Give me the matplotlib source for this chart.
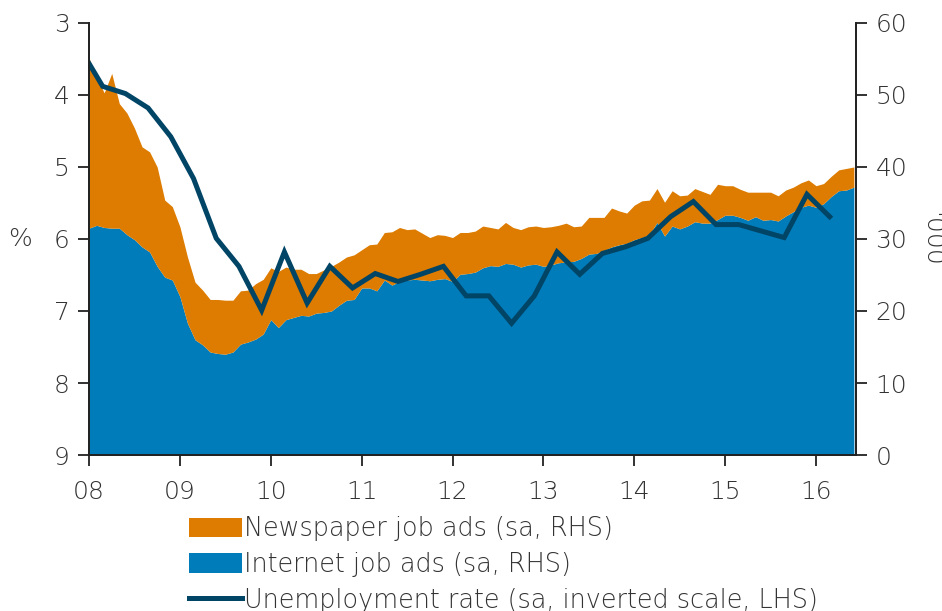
import matplotlib.pyplot as plt
import numpy as np

# monthly job ads, '000 (Jan 2008 - Jun 2016)
internet_ads = [31.5, 31.9, 31.6, 31.5, 31.5, 30.6, 29.9, 28.9, 28.2, 26.2, 24.7, 24.3,
                22.0, 18.3, 16.0, 15.3, 14.3, 14.1, 14.0, 14.3, 15.4, 15.7, 16.1, 16.8,
                18.8, 17.7, 18.8, 19.1, 19.4, 19.3, 19.7, 19.8, 20.0, 20.8, 21.5, 21.6,
                23.2, 23.2, 22.8, 24.3, 23.6, 24.1, 24.3, 24.4, 24.3, 24.2, 24.4, 24.5,
                24.1, 25.1, 25.2, 25.4, 26.0, 26.3, 26.2, 26.6, 26.5, 26.1, 26.4, 26.5,
                26.2, 26.4, 26.7, 26.8, 26.9, 27.3, 27.9, 28.0, 28.4, 28.9, 29.2, 29.4,
                29.9, 30.2, 30.6, 32.3, 30.4, 31.8, 31.4, 31.8, 32.4, 32.2, 32.2, 32.7,
                33.3, 33.3, 33.0, 32.6, 33.1, 32.6, 32.7, 32.5, 33.2, 33.8, 34.4, 34.7,
                34.4, 34.9, 35.9, 36.7, 36.8, 37.2]
newspaper_ads = [23.6, 20.6, 18.7, 21.5, 17.3, 16.9, 15.5, 13.9, 13.9, 13.8, 10.7, 10.2,
                 9.7, 9.2, 8.0, 7.6, 7.3, 7.5, 7.5, 7.2, 7.4, 7.2, 7.7, 7.6,
                 7.2, 7.8, 7.3, 6.7, 6.4, 5.9, 5.5, 5.9, 6.2, 6.0, 6.0, 6.2,
                 5.3, 6.0, 6.5, 6.6, 7.4, 7.5, 7.0, 7.0, 6.5, 6.0, 6.2, 6.0,
                 6.1, 5.8, 5.7, 5.7, 5.8, 5.3, 5.2, 5.7, 5.1, 5.2, 5.3, 5.3,
                 5.4, 5.3, 5.2, 5.4, 4.8, 4.5, 5.1, 5.0, 4.6, 5.4, 4.7, 4.2,
                 4.8, 5.1, 4.8, 4.7, 4.7, 4.9, 4.6, 4.3, 4.6, 4.4, 4.0, 4.9,
                 4.1, 4.1, 3.9, 3.9, 3.4, 3.9, 3.8, 3.5, 3.6, 3.4, 3.4, 3.5,
                 3.0, 2.8, 2.8, 2.9, 3.0, 2.8]

# quarterly unemployment rate, % (2007 Q4 - 2016 Q1)
unemployment = [3.35, 3.88, 3.98, 4.18, 4.58, 5.16, 5.99, 6.38, 6.99,
                6.18, 6.89, 6.38, 6.68, 6.48, 6.59, 6.49, 6.38,
                6.79, 6.79, 7.17, 6.79, 6.18, 6.49, 6.20, 6.11,
                5.99, 5.69, 5.48, 5.80, 5.80, 5.89, 5.98, 5.38, 5.69]

year_ticks = [2008, 2009, 2010, 2011, 2012, 2013, 2014, 2015, 2016]
year_labels = ["08", "09", "10", "11", "12", "13", "14", "15", "16"]

months = 2008 + np.arange(len(internet_ads)) / 12
quarters = 2007.9 + 0.25 * np.arange(len(unemployment))

c_orange = "#DD7C00"
c_blue = "#007CBA"
c_line = "#004466"
c_axis = "#222222"

plt.rcParams["font.family"] = ["DejaVu Sans"]
plt.rcParams["font.weight"] = 200
plt.rcParams["font.size"] = 18
plt.rcParams["text.color"] = "#333333"

fig = plt.figure(figsize=(9.42, 6.11), dpi=100)
ax = fig.add_axes([0.0945, 0.2553, 0.8142, 0.7071])
ax2 = ax.twinx()

ax2.fill_between(months, 0, internet_ads, color=c_blue, lw=0,
                 label="Internet job ads (sa, RHS)")
ax2.fill_between(months, internet_ads, np.array(internet_ads) + np.array(newspaper_ads),
                 color=c_orange, lw=0, label="Newspaper job ads (sa, RHS)")
ax.plot(quarters, unemployment, color=c_line, lw=3.6, solid_joinstyle="miter",
        label="Unemployment rate (sa, inverted scale, LHS)")

ax.set_zorder(ax2.get_zorder() + 1)
ax.patch.set_visible(False)

ax.set_xlim(2008, 2016.44)
ax.set_ylim(9, 3)
ax2.set_ylim(0, 60)
ax.set_yticks(range(3, 10))
ax2.set_yticks(range(0, 61, 10))
ax.set_xticks(year_ticks)
ax.set_xticklabels(year_labels)

for a in (ax, ax2):
    a.spines["top"].set_visible(False)
    for s in ("left", "right", "bottom"):
        a.spines[s].set_color(c_axis)
        a.spines[s].set_linewidth(1.3)
    a.tick_params(direction="out", length=8, width=1.3, color=c_axis,
                  labelcolor="#333333", labelsize=18, pad=6)
ax.tick_params(axis="x", pad=10)

ax.text(-0.09, 0.5, "%", transform=ax.transAxes, ha="center", va="center")
ax2.text(1.098, 0.5, "'000", transform=ax2.transAxes, ha="center", va="center",
         rotation=-90)

h2, l2 = ax2.get_legend_handles_labels()
h1, l1 = ax.get_legend_handles_labels()
fig.legend([h2[1], h2[0], h1[0]], [l2[1], l2[0], l1[0]],
           loc="upper left", bbox_to_anchor=(0.201, 0.155), frameon=False,
           fontsize=18.4, handlelength=2.05, handleheight=0.8, handletextpad=0.1,
           labelspacing=0.42, borderpad=0, borderaxespad=0)

fig.savefig("out.png", dpi=100)
